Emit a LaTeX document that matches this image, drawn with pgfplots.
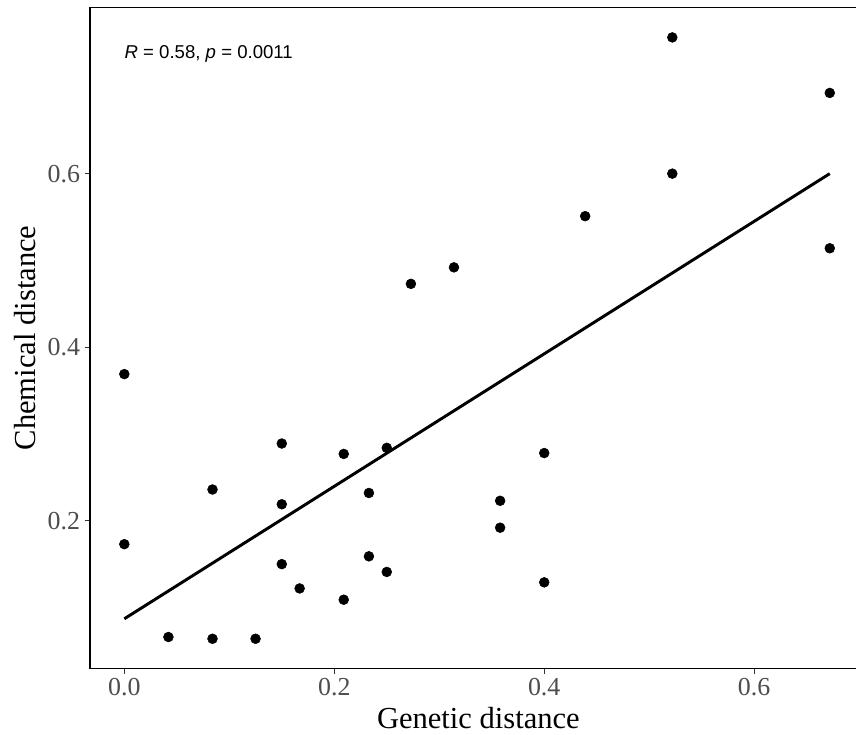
\documentclass[border=0pt]{standalone}
\usepackage{fontspec}
\setmainfont{Liberation Serif}
\newfontfamily\arial{Liberation Sans}
\usepackage{pgfplots}
\pgfplotsset{compat=1.18}
\definecolor{ticktext}{HTML}{4D4D4D}
\definecolor{tickline}{HTML}{333333}
\begin{document}
\begin{tikzpicture}
\begin{axis}[
    name=ax,
    scale only axis,
    width=574.5bp, height=495.6bp,
    xmin=-0.0327, xmax=0.697,
    ymin=0.030, ymax=0.7915,
    xtick={0,0.2,0.4,0.6},
    ytick={0.2,0.4,0.6},
    xticklabels={0.0,0.2,0.4,0.6},
    yticklabels={0.2,0.4,0.6},
    tick align=outside,
    major tick length=4bp,
    tick style={tickline, line width=0.8bp},
    xtick pos=bottom, ytick pos=left,
    axis line style={draw=none},
    ticklabel style={font=\fontsize{19.5}{20}\selectfont, text=ticktext},
    /pgf/number format/assume math mode=true,
    xlabel={Genetic distance},
    ylabel={Chemical distance},
    label style={font=\fontsize{23}{24}\selectfont},
    xlabel style={at={(axis description cs:0.507,0)}, anchor=base, yshift=-45bp},
    ylabel style={at={(axis description cs:-0.0714,0.5)}, anchor=base},
    clip=false,
]
% scatter points
\addplot[only marks, mark=*, mark size=3.7bp, black] coordinates {
    (0.000,0.369) (0.000,0.173)
    (0.042,0.066) (0.084,0.064) (0.125,0.064) (0.084,0.236)
    (0.150,0.289) (0.150,0.219) (0.150,0.150)
    (0.167,0.122)
    (0.209,0.277) (0.209,0.109)
    (0.233,0.232) (0.233,0.159)
    (0.250,0.284) (0.250,0.141)
    (0.273,0.473) (0.314,0.492)
    (0.358,0.223) (0.358,0.192)
    (0.400,0.278) (0.400,0.129)
    (0.439,0.551)
    (0.522,0.757) (0.522,0.600)
    (0.672,0.693) (0.672,0.514)
};
% fitted line
\addplot[black, line width=2.2bp] coordinates {(0.000,0.087) (0.672,0.600)};
\node[anchor=base west, inner sep=0pt, font=\arial\fontsize{14}{15}\selectfont] at (axis cs:0,0.733)
    {\textit{R} = 0.58, \textit{p} = 0.0011};
% panel border (right side lies outside the picture)
\draw[black, line width=1.1bp] (rel axis cs:1,1) -- (rel axis cs:0,1) -- (rel axis cs:0,0) -- (rel axis cs:1,0);
\end{axis}
\pgfresetboundingbox
\path (ax.south west) ++(-67.5bp,-50bp) coordinate (bl);
\path (ax.north east) ++(0,5.6bp) coordinate (tr);
\path (bl) rectangle (tr);
\end{tikzpicture}
\end{document}
